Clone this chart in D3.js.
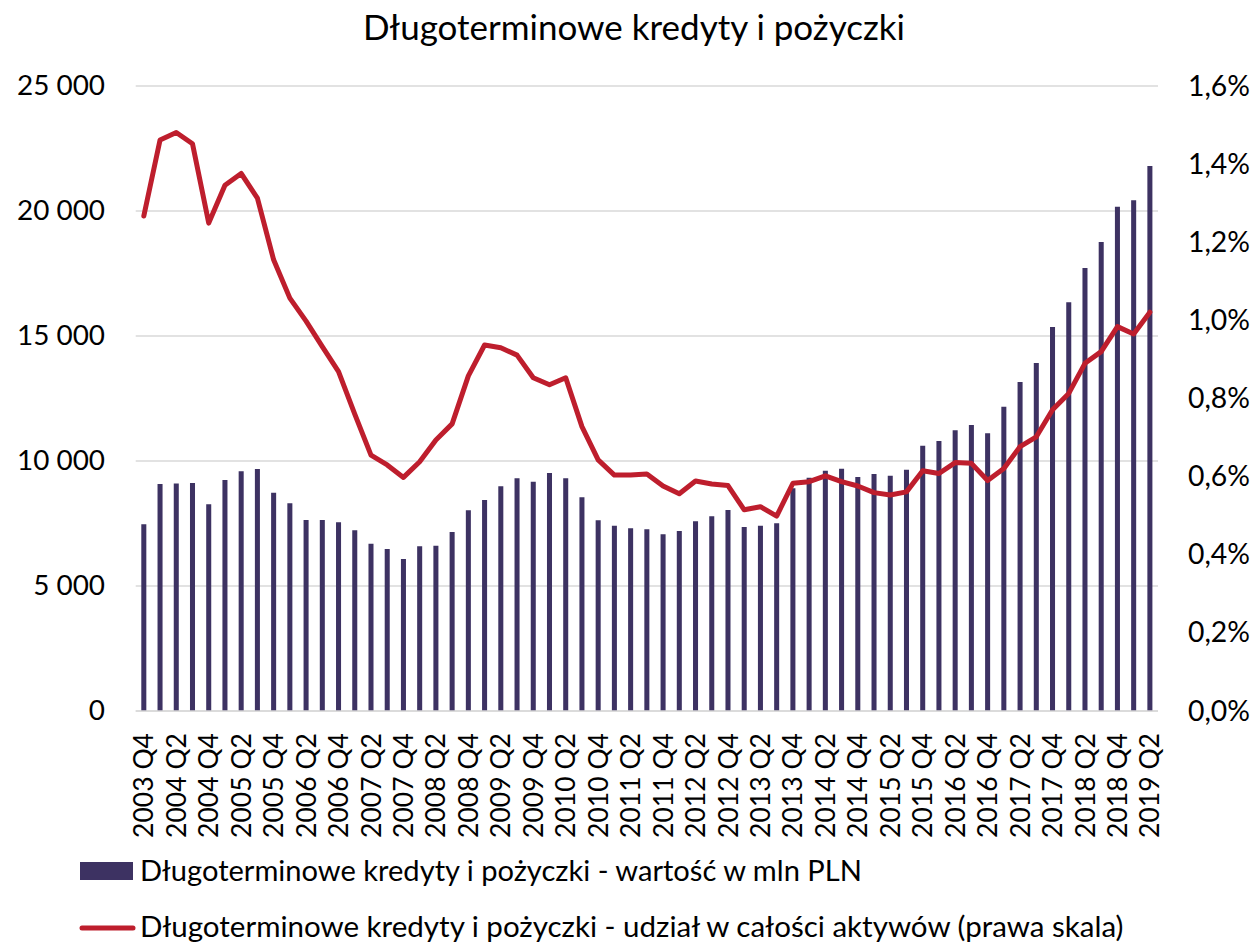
<!DOCTYPE html>
<html>
<head>
<meta charset="utf-8">
<script src="https://cdn.jsdelivr.net/npm/d3@7"></script>
<style>
  html, body { margin: 0; padding: 0; background: #ffffff; }
  svg { display: block; }
</style>
</head>
<body>
<svg id="chart" width="1256" height="943"></svg>
<script>
const title = "Długoterminowe kredyty i pożyczki";
const legendBar = "Długoterminowe kredyty i pożyczki - wartość w mln PLN";
const legendLine = "Długoterminowe kredyty i pożyczki - udział w całości aktywów (prawa skala)";

const quarters = [
  "2003 Q4",
  "2004 Q1","2004 Q2","2004 Q3","2004 Q4",
  "2005 Q1","2005 Q2","2005 Q3","2005 Q4",
  "2006 Q1","2006 Q2","2006 Q3","2006 Q4",
  "2007 Q1","2007 Q2","2007 Q3","2007 Q4",
  "2008 Q1","2008 Q2","2008 Q3","2008 Q4",
  "2009 Q1","2009 Q2","2009 Q3","2009 Q4",
  "2010 Q1","2010 Q2","2010 Q3","2010 Q4",
  "2011 Q1","2011 Q2","2011 Q3","2011 Q4",
  "2012 Q1","2012 Q2","2012 Q3","2012 Q4",
  "2013 Q1","2013 Q2","2013 Q3","2013 Q4",
  "2014 Q1","2014 Q2","2014 Q3","2014 Q4",
  "2015 Q1","2015 Q2","2015 Q3","2015 Q4",
  "2016 Q1","2016 Q2","2016 Q3","2016 Q4",
  "2017 Q1","2017 Q2","2017 Q3","2017 Q4",
  "2018 Q1","2018 Q2","2018 Q3","2018 Q4",
  "2019 Q1","2019 Q2"
];

// value in mln PLN (left axis)
const values = [
  7470, 9080, 9100, 9120, 8270, 9240, 9590, 9680, 8730, 8310,
  7640, 7640, 7550, 7230, 6690, 6480, 6080, 6590, 6610, 7160,
  8030, 8440, 8990, 9310, 9170, 9520, 9310, 8550, 7630, 7410,
  7310, 7270, 7070, 7200, 7590, 7790, 8040, 7360, 7410, 7510,
  8910, 9330, 9610, 9690, 9360, 9480, 9410, 9650, 10610, 10800,
  11230, 11440, 11110, 12170, 13160, 13920, 15360, 16350, 17720, 18760,
  20170, 20430, 21800
];

// share of total assets, % (right axis)
const shares = [
  1.267, 1.462, 1.481, 1.452, 1.249, 1.346, 1.376, 1.313, 1.155, 1.057,
  0.998, 0.933, 0.869, 0.760, 0.655, 0.630, 0.598, 0.638, 0.694, 0.735,
  0.858, 0.937, 0.930, 0.911, 0.853, 0.835, 0.853, 0.728, 0.643, 0.604,
  0.604, 0.607, 0.576, 0.556, 0.589, 0.581, 0.577, 0.515, 0.523, 0.499,
  0.583, 0.587, 0.602, 0.587, 0.576, 0.559, 0.553, 0.561, 0.615, 0.608,
  0.636, 0.634, 0.590, 0.621, 0.677, 0.702, 0.771, 0.813, 0.890, 0.920,
  0.984, 0.965, 1.021
];

const leftTicks = [0, 5000, 10000, 15000, 20000, 25000];
const rightTicks = [0, 0.2, 0.4, 0.6, 0.8, 1.0, 1.2, 1.4, 1.6];

const FONT = "Lato, 'Open Sans', sans-serif";
const BAR_COLOR = "#3d3262";
const LINE_COLOR = "#be1e2d";
const GRID_COLOR = "#d9d9d9";

const svg = d3.select("#chart");

const plot = { left: 135.7, right: 1158, top: 86, bottom: 711 };

const x = d3.scaleBand()
  .domain(quarters)
  .range([plot.left, plot.right])
  .paddingInner(0.69)
  .paddingOuter(0.345);

const yL = d3.scaleLinear().domain([0, 25000]).range([plot.bottom, plot.top]);
const yR = d3.scaleLinear().domain([0, 1.6]).range([plot.bottom, plot.top]);

function fitWidth(sel, target) {
  const node = sel.node();
  const w = node.getComputedTextLength();
  const fs = parseFloat(sel.attr("font-size"));
  return fs * target / w;
}

// gridlines
svg.append("g")
  .selectAll("line")
  .data(leftTicks)
  .join("line")
  .attr("x1", plot.left).attr("x2", plot.right)
  .attr("y1", d => yL(d)).attr("y2", d => yL(d))
  .attr("stroke", GRID_COLOR)
  .attr("stroke-width", 1.6);

// bars
svg.append("g")
  .selectAll("rect")
  .data(quarters.map((q, i) => ({ q, v: values[i] })))
  .join("rect")
  .attr("x", d => x(d.q))
  .attr("width", x.bandwidth())
  .attr("y", d => yL(d.v))
  .attr("height", d => yL(0) - yL(d.v))
  .attr("fill", BAR_COLOR);

// line
const line = d3.line()
  .x((d, i) => x(quarters[i]) + x.bandwidth() / 2)
  .y(d => yR(d));

svg.append("path")
  .datum(shares)
  .attr("d", line)
  .attr("fill", "none")
  .attr("stroke", LINE_COLOR)
  .attr("stroke-width", 5)
  .attr("stroke-linejoin", "round")
  .attr("stroke-linecap", "round");

// left axis
const fmtThousands = d => d3.format(",")(d).replace(/,/g, "\u00a0");
const leftAxis = d3.axisLeft(yL).tickValues(leftTicks).tickSize(0).tickPadding(0).tickFormat(fmtThousands);
const gL = svg.append("g").attr("transform", "translate(105,0)").call(leftAxis);
gL.select(".domain").remove();
gL.selectAll("text").attr("font-family", FONT).attr("font-size", 30).attr("fill", "#000");
{
  const top = gL.selectAll("text").filter(d => d === 25000);
  const fs = fitWidth(top, 88);
  gL.selectAll("text").attr("font-size", fs);
}

// right axis
const fmtPct = d => d3.format(".1f")(d).replace(".", ",") + "%";
const rightAxis = d3.axisRight(yR).tickValues(rightTicks).tickSize(0).tickPadding(0).tickFormat(fmtPct);
const gR = svg.append("g").attr("transform", "translate(1188,0)").call(rightAxis);
gR.select(".domain").remove();
gR.selectAll("text").attr("font-family", FONT).attr("font-size", 30).attr("fill", "#000");
{
  const top = gR.selectAll("text").filter(d => d === 1.6);
  const fs = fitWidth(top, 62);
  gR.selectAll("text").attr("font-size", fs);
}

// bottom axis
const bottomTicks = quarters.filter((q, i) => i % 2 === 0);
const bottomAxis = d3.axisBottom(x).tickValues(bottomTicks).tickSize(0).tickPadding(0);
const gB = svg.append("g").attr("transform", `translate(0,${plot.bottom})`).call(bottomAxis);
gB.select(".domain")
  .attr("d", `M${plot.left},0H${plot.right}`)
  .attr("stroke", GRID_COLOR)
  .attr("stroke-width", 1.6);
gB.selectAll("text")
  .attr("font-family", FONT)
  .attr("font-size", 30)
  .attr("fill", "#000")
  .attr("text-anchor", "end")
  .attr("transform", "translate(0,22) rotate(-90)")
  .attr("x", 0)
  .attr("y", 0)
  .attr("dy", "0.36em");
{
  const first = gB.selectAll("text").filter(d => d === "2003 Q4");
  const fs = fitWidth(first, 105);
  gB.selectAll("text").attr("font-size", fs);
}

// title
const t = svg.append("text")
  .attr("x", 634)
  .attr("y", 40)
  .attr("text-anchor", "middle")
  .attr("font-family", FONT)
  .attr("font-size", 30)
  .attr("fill", "#000")
  .text(title);
t.attr("font-size", fitWidth(t, 542));

// legend
const lg = svg.append("g");
lg.append("rect")
  .attr("x", 80).attr("y", 862)
  .attr("width", 53).attr("height", 18)
  .attr("fill", BAR_COLOR);
const l1 = lg.append("text")
  .attr("x", 140).attr("y", 881)
  .attr("font-family", FONT).attr("font-size", 30).attr("fill", "#000")
  .text(legendBar);
l1.attr("font-size", fitWidth(l1, 722));

lg.append("line")
  .attr("x1", 82).attr("x2", 133)
  .attr("y1", 928).attr("y2", 928)
  .attr("stroke", LINE_COLOR)
  .attr("stroke-width", 5)
  .attr("stroke-linecap", "round");
const l2 = lg.append("text")
  .attr("x", 140).attr("y", 937)
  .attr("font-family", FONT).attr("font-size", 30).attr("fill", "#000")
  .text(legendLine);
l2.attr("font-size", fitWidth(l2, 984));
</script>
</body>
</html>
